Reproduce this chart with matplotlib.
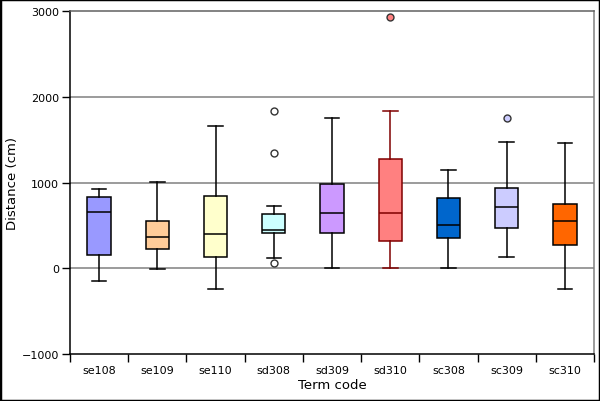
import numpy as np
import matplotlib
matplotlib.use('Agg')
import matplotlib.pyplot as plt
from matplotlib.patches import Rectangle

terms = ['se108', 'se109', 'se110', 'sd308', 'sd309', 'sd310', 'sc308', 'sc309', 'sc310']
whislo = [-150, -10, -244, 118, 0, 0, 0, 129, -244]
q1 = [153, 223, 129, 409, 409, 323, 351, 467, 269]
med = [654, 363, 401, 444, 642, 642, 503, 712, 549]
q3 = [829, 549, 848, 631, 981, 1272, 817, 934, 747]
whishi = [922, 1004, 1657, 724, 1750, 1832, 1144, 1470, 1459]
fliers = [[], [], [], [1832, 1342, 59], [], [2932], [], [1750], []]
fills = ['#9999FF', '#FFCC99', '#FFFFCC', '#CCFFFF', '#CC99FF',
         '#FF8080', '#0066CC', '#CCCCFF', '#FF6600']
flier_fill = ['white', 'white', 'white', 'white', 'white', '#FF8080', 'white', '#CCCCFF', 'white']
edges = ['black'] * 5 + ['#800000'] + ['black'] * 3

fig = plt.figure(figsize=(6, 4.02), dpi=100)
ax = fig.add_axes([70 / 600, 47 / 402, 524 / 600, 342.7 / 402])

stats = []
for i in range(len(terms)):
    stats.append({'whislo': whislo[i], 'q1': q1[i], 'med': med[i], 'q3': q3[i],
                  'whishi': whishi[i], 'fliers': fliers[i]})

for i, s in enumerate(stats):
    ec = edges[i]
    ax.bxp([s], positions=[i + 1], widths=0.4, patch_artist=True,
           boxprops=dict(facecolor=fills[i], edgecolor=ec, linewidth=1.1),
           medianprops=dict(color=ec, linewidth=1.1),
           whiskerprops=dict(color=ec, linewidth=1.1),
           capprops=dict(color=ec, linewidth=1.1),
           capwidths=0.25,
           flierprops=dict(marker='o', markersize=5, markerfacecolor=flier_fill[i],
                           markeredgecolor='#333333', markeredgewidth=1.0),
           zorder=3)

ax.set_xlim(0.5, len(terms) + 0.5)
ax.set_ylim(-1000, 3000)
ax.set_yticks([-1000, 0, 1000, 2000, 3000])
ax.set_yticklabels(['\u22121000', '0', '1000', '2000', '3000'])
for y in [0, 1000, 2000]:
    ax.axhline(y, color='#808080', linewidth=1.1, zorder=1)

ax.set_xticks(np.arange(0.5, len(terms) + 1, 1.0))
ax.set_xticklabels([])
ax.set_xticks(np.arange(1, len(terms) + 1), minor=True)
ax.set_xticklabels(terms, minor=True)
ax.tick_params(axis='x', which='major', length=6, width=1, direction='out')
ax.tick_params(axis='x', which='minor', length=0, pad=8, labelsize=8)
ax.tick_params(axis='y', length=6, width=1, labelsize=8, pad=2)

ax.spines['top'].set_color('#606060')
ax.spines['right'].set_color('#808080')
for sp in ax.spines.values():
    sp.set_linewidth(1.1)

ax.set_xlabel('Term code', fontsize=9.5, labelpad=2)
ax.set_ylabel('Distance (cm)', fontsize=9.5)
ax.yaxis.set_label_coords(-0.097, 0.5)

fig.patches.append(Rectangle((0, 0), 1, 1, transform=fig.transFigure,
                             fill=False, edgecolor='black', linewidth=2.5))

fig.savefig('out.png', dpi=100)
